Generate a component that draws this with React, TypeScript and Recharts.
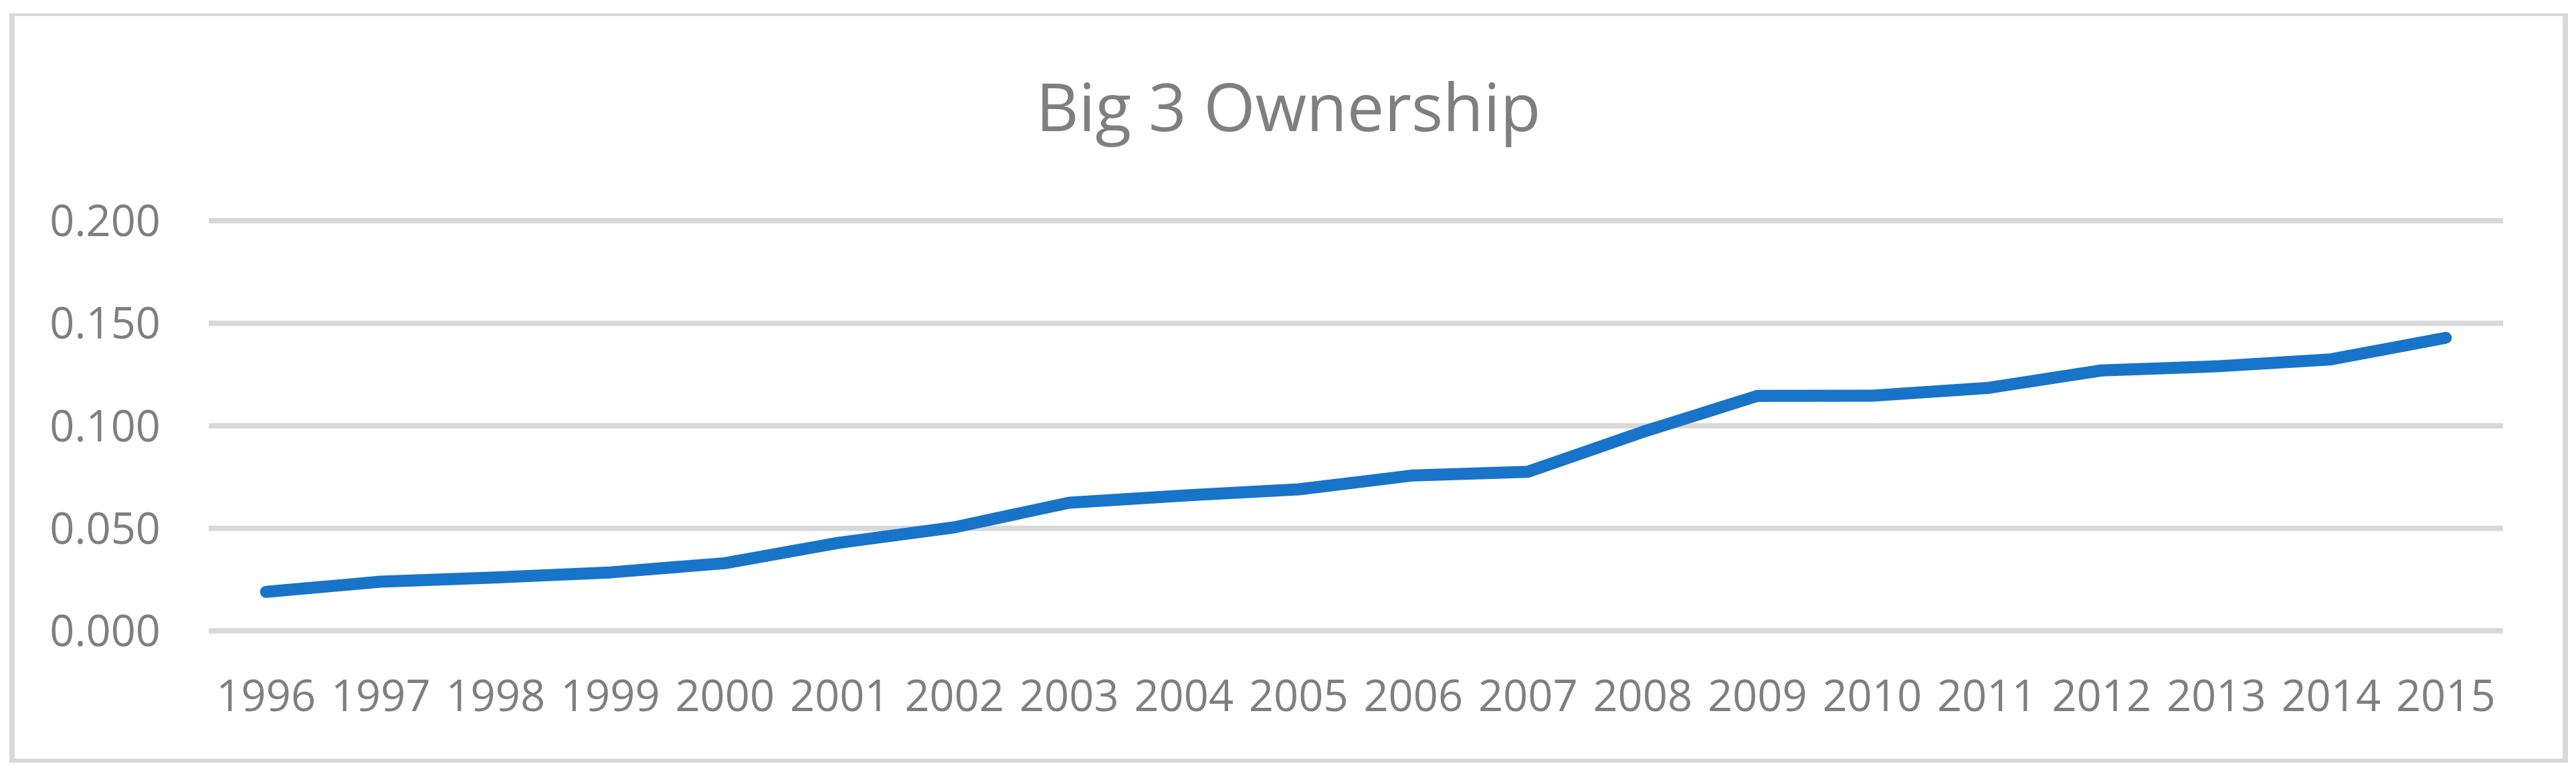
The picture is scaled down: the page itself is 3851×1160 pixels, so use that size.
import React from 'react';
import { LineChart, Line, XAxis, YAxis, CartesianGrid } from 'recharts';

const years = ['1996', '1997', '1998', '1999', '2000', '2001', '2002', '2003', '2004', '2005', '2006', '2007', '2008', '2009', '2010', '2011', '2012', '2013', '2014', '2015'];
const ownership = [0.019, 0.024, 0.026, 0.0285, 0.033, 0.043, 0.0505, 0.0625, 0.066, 0.069, 0.0758, 0.0776, 0.097, 0.1146, 0.1147, 0.1184, 0.127, 0.129, 0.1324, 0.1429];
const yTicks = [0, 0.05, 0.1, 0.15, 0.2];
const title = 'Big 3 Ownership';

const data = years.map((y, i) => ({ year: y, value: ownership[i] }));

const W = 3851;
const H = 1160;
const FONT = "'Open Sans', sans-serif";
const GRAY = '#7F7F7F';

export default function App() {
  return (
    <div style={{ position: 'absolute', left: 0, top: 0, width: W, height: H, background: '#fff', overflow: 'hidden' }}>
      <div
        style={{
          position: 'absolute',
          left: 14,
          top: 20,
          width: 3839 - 14,
          height: 1140 - 20,
          boxSizing: 'border-box',
          borderLeft: '8px solid #D9D9D9',
          borderRight: '8px solid #D9D9D9',
          borderTop: '4px solid #D9D9D9',
          borderBottom: '6px solid #D9D9D9',
        }}
      />
      <div style={{ position: 'absolute', left: 0, top: 0 }}>
        <LineChart width={W} height={H} data={data} margin={{ top: 330, right: 109, bottom: 67, left: 0 }}>
          <CartesianGrid vertical={false} stroke="#D9D9D9" strokeWidth={8} />
          <XAxis
            dataKey="year"
            interval={0}
            axisLine={false}
            tickLine={false}
            tickSize={0}
            tickMargin={74}
            height={150}
            padding={{ left: 85.75, right: 85.75 }}
            tick={{ fontFamily: FONT, fontSize: 65, fill: GRAY }}
          />
          <YAxis
            domain={[0, 0.2]}
            ticks={yTicks}
            interval={0}
            axisLine={false}
            tickLine={false}
            tickSize={0}
            tickMargin={72}
            width={312}
            tickFormatter={(v: number) => v.toFixed(3)}
            tick={{ fontFamily: FONT, fontSize: 65, fill: GRAY }}
          />
          <Line
            type="linear"
            dataKey="value"
            stroke="#1874C8"
            strokeWidth={18}
            strokeLinecap="round"
            strokeLinejoin="round"
            dot={false}
            activeDot={false}
            isAnimationActive={false}
          />
        </LineChart>
      </div>
      <svg width={W} height={H} style={{ position: 'absolute', left: 0, top: 0, pointerEvents: 'none' }}>
        <text x={1926} y={196} textAnchor="middle" fontFamily={FONT} fontSize={99} fill={GRAY}>
          {title}
        </text>
      </svg>
    </div>
  );
}
